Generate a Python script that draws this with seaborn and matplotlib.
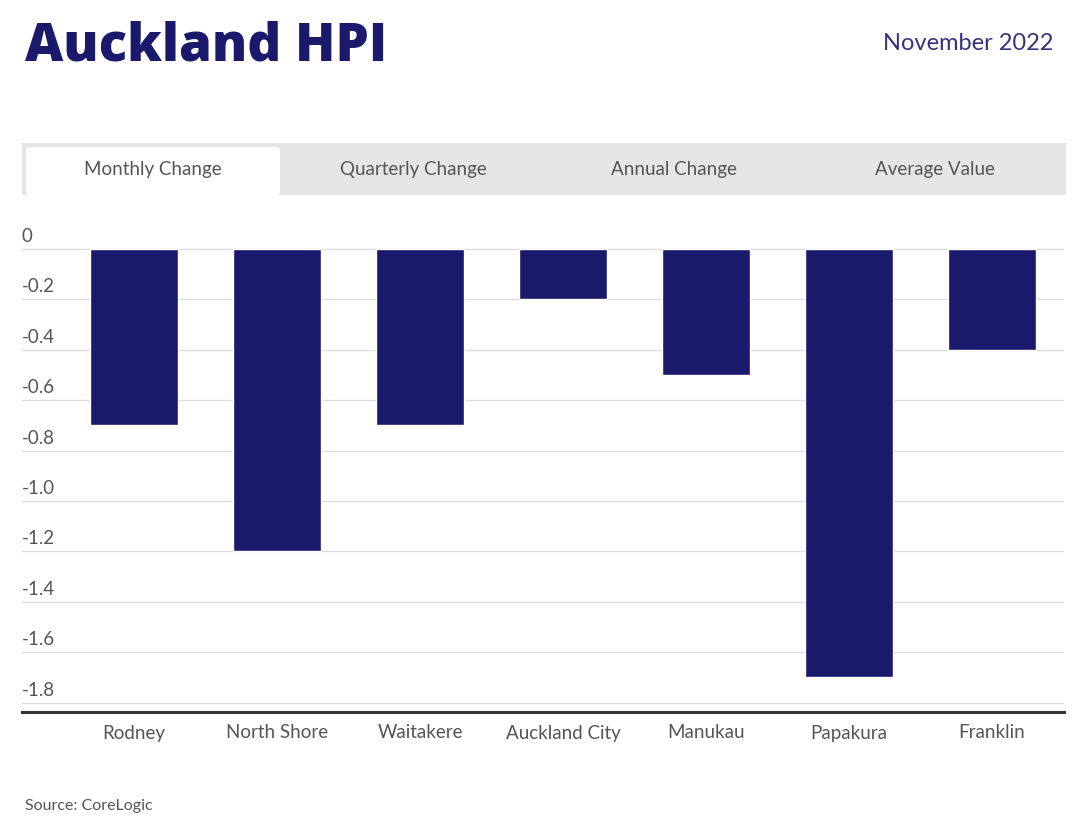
import pandas as pd
import seaborn as sns
import matplotlib.pyplot as plt
from matplotlib.patches import Rectangle, FancyBboxPatch
from matplotlib.transforms import blended_transform_factory

####################
## Chart data     ##
####################

regions = ['Rodney', 'North Shore', 'Waitakere', 'Auckland City', 'Manukau', 'Papakura', 'Franklin']
monthly_change = [-0.7, -1.2, -0.7, -0.2, -0.5, -1.7, -0.4]
tabs = ['Monthly Change', 'Quarterly Change', 'Annual Change', 'Average Value']
y_ticks = [0, -0.2, -0.4, -0.6, -0.8, -1.0, -1.2, -1.4, -1.6, -1.8]
y_tick_labels = ['0', '-0.2', '-0.4', '-0.6', '-0.8', '-1.0', '-1.2', '-1.4', '-1.6', '-1.8']

df = pd.DataFrame({'region': regions, 'change': monthly_change})

navy = '#1a196b'
grey_text = '#555555'

sns.set_theme(style='white')
plt.rcParams['font.family'] = ['Lato', 'DejaVu Sans']

W, H = 1080, 825
fig = plt.figure(figsize=(W / 100, H / 100), dpi=100)

def fx(px):
    return px / W

def fy(py):
    return 1 - py / H

###########
## Title ##
###########

fig.text(fx(25), fy(47), 'Auckland HPI', fontsize=38, fontweight='heavy', family=['Open Sans', 'DejaVu Sans'],
         color=navy, va='center', ha='left')
fig.text(fx(1053), fy(43), 'November 2022', fontsize=17, color='#34347f', va='center', ha='right')

##########
## Tabs ##
##########

fig.patches.append(Rectangle((fx(22), fy(195)), fx(1066) - fx(22), fy(143) - fy(195),
                             transform=fig.transFigure, facecolor='#e5e5e5', edgecolor='none'))
fig.patches.append(FancyBboxPatch((fx(26), fy(195)), fx(280) - fx(26), fy(147) - fy(195),
                                  boxstyle='round,pad=0,rounding_size=0.004',
                                  transform=fig.transFigure, facecolor='white', edgecolor='none'))
tab_centres = [153, 413, 674, 935]
for label, cx in zip(tabs, tab_centres):
    fig.text(fx(cx), fy(169), label, fontsize=13.5, color=grey_text, ha='center', va='center')

###############
## Bar chart ##
###############

ax = fig.add_axes([fx(22), fy(712), fx(1064) - fx(22), fy(225) - fy(712)])
sns.barplot(data=df, x='region', y='change', color=navy, saturation=1, width=0.615, ax=ax)

ax.set_xlim(-0.783, 6.503)
ax.set_ylim(-1.837, 0.095)
ax.set_yticks(y_ticks)
ax.yaxis.grid(True, color='#dddddd', linewidth=1)
ax.set_axisbelow(True)
ax.tick_params(axis='y', length=0, labelleft=False)
ax.tick_params(axis='x', length=0, pad=9, labelsize=13.5, labelcolor=grey_text)
ax.set_xlabel('')
ax.set_ylabel('')

# y labels sit above their gridlines, left aligned
trans = blended_transform_factory(ax.transAxes, ax.transData)
for val, lab in zip(y_ticks, y_tick_labels):
    ax.text(0, val + 0.016, lab, transform=trans, fontsize=13.5, color=grey_text, ha='left', va='bottom')

for side in ['top', 'left', 'right']:
    ax.spines[side].set_visible(False)
ax.spines['bottom'].set_color('#333333')
ax.spines['bottom'].set_linewidth(2.2)

fig.text(fx(25), fy(806), 'Source: CoreLogic', fontsize=11.5, color=grey_text, ha='left', va='center')

plt.savefig('out.png', dpi=100)
plt.close()
